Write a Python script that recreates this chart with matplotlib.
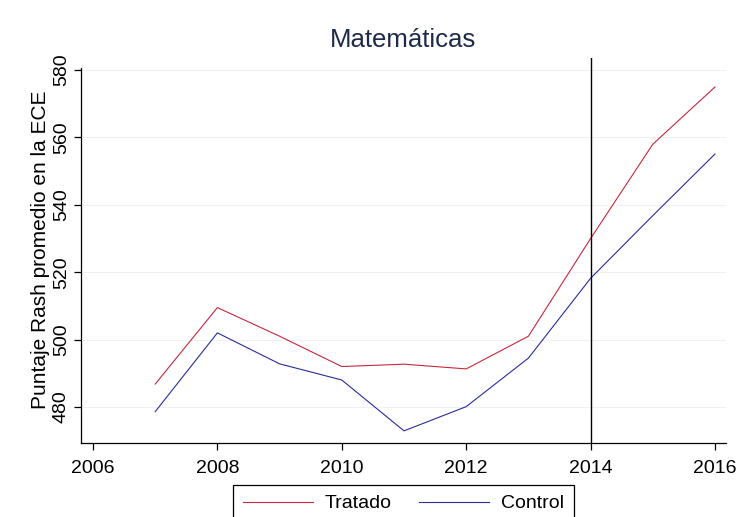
import matplotlib
matplotlib.use('agg')
from matplotlib import pyplot as plt

# datos
anios = [2007, 2008, 2009, 2010, 2011, 2012, 2013, 2014, 2015, 2016]
tratado = [486.8, 509.5, 501.0, 492.0, 492.7, 491.3, 501.0, 530.0, 558.0, 575.0]
control = [478.6, 502.0, 492.8, 488.0, 472.9, 480.1, 494.5, 518.2, 536.8, 555.1]
yticks = [480, 500, 520, 540, 560, 580]
xticks = [2006, 2008, 2010, 2012, 2014, 2016]
anio_corte = 2014

plt.rcParams['font.family'] = ['Liberation Sans', 'DejaVu Sans']

fig = plt.figure(figsize=(7.36, 5.17), dpi=100)
W, H = 736, 517
ax = fig.add_axes([81 / W, 1 - 443 / H, (726 - 81) / W, (443 - 58) / H])

ax.plot(anios, tratado, color='#c8283c', linewidth=0.8, label='Tratado')
ax.plot(anios, control, color='#2b2b9c', linewidth=0.8, label='Control')
ax.axvline(anio_corte, color='black', linewidth=1.0)

ax.set_xlim(2005.807, 2016.177)
ax.set_ylim(469.3, 583.6)
ax.set_xticks(xticks)
ax.set_yticks(yticks)
for t in yticks:
    ax.axhline(t, color='#f0f0f0', linewidth=0.8, zorder=0)

ax.spines['top'].set_visible(False)
ax.spines['right'].set_visible(False)
ax.spines['left'].set_bounds(469.3, 580.6)
for s in ['left', 'bottom']:
    ax.spines[s].set_linewidth(0.9)

ax.tick_params(axis='both', direction='out', length=5, width=0.9, labelsize=14)
ax.tick_params(axis='y', pad=3)
ax.tick_params(axis='x', pad=7)
for lab in ax.get_yticklabels():
    lab.set_rotation(90)
    lab.set_va('center')

fig.text(41 / W, 1 - 250 / H, 'Puntaje Rash promedio en la ECE', rotation=90,
         ha='center', va='center', size=15)
fig.text(403.5 / W, 1 - 40 / H, 'Matemáticas', ha='center', va='center',
         size=18.5, color='#1e2a4a')

# leyenda abajo, cortada por el borde como en el original
leg = fig.legend(loc='upper center', bbox_to_anchor=(403.5 / W, 1 - 485 / H),
                 ncol=2, fontsize=14, handlelength=3.6, handletextpad=0.6,
                 columnspacing=1.4, fancybox=False, edgecolor='black',
                 framealpha=1, borderpad=0.5, borderaxespad=0)
leg.get_frame().set_linewidth(0.9)

fig.savefig('out.png', dpi=100)
